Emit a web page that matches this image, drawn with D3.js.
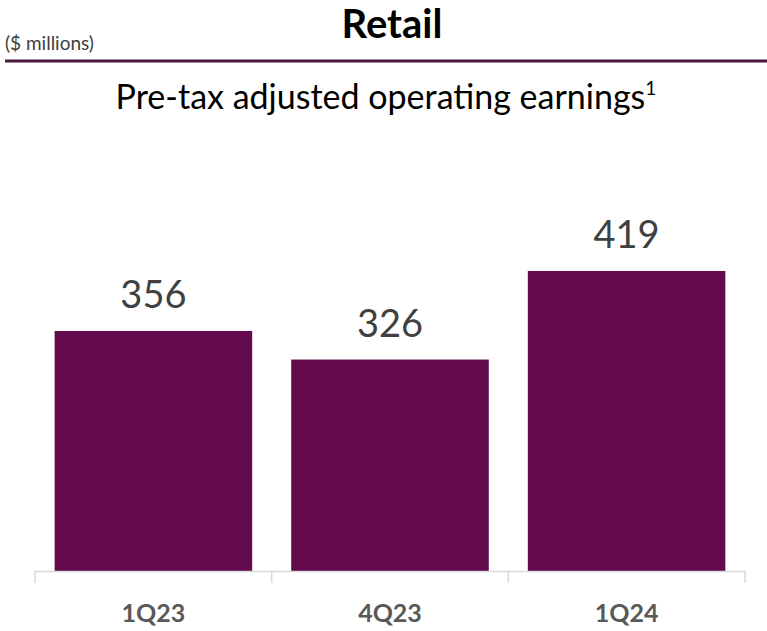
<!DOCTYPE html>
<html>
<head>
<meta charset="utf-8">
<script src="https://cdn.jsdelivr.net/npm/d3@7"></script>
<style>
  html, body { margin: 0; padding: 0; background: #fff; }
  svg { display: block; font-family: Lato, "Open Sans", sans-serif; }
</style>
</head>
<body>
<svg id="chart" width="767" height="631"></svg>
<script>
// Data
const quarters = ["1Q23", "4Q23", "1Q24"];
const earnings = [356, 326, 419];

const W = 767, H = 631;
const svg = d3.select("#chart");

// Header
svg.append("text")
    .attr("x", 392).attr("y", 38)
    .attr("text-anchor", "middle")
    .style("font-size", "40px").style("font-weight", "bold").style("fill", "#000")
    .text("Retail");

svg.append("text")
    .attr("x", 5).attr("y", 50)
    .style("font-size", "19px").style("fill", "#404040")
    .text("($ millions)");

svg.append("line")
    .attr("x1", 5).attr("x2", W).attr("y1", 61).attr("y2", 61)
    .style("stroke", "#4a1a3e").style("stroke-width", 3);

const sub = svg.append("text")
    .attr("x", 386).attr("y", 109)
    .attr("text-anchor", "middle")
    .style("font-size", "34px").style("fill", "#000");
sub.append("tspan").text("Pre-tax adjusted operating earnings");
sub.append("tspan").attr("dy", -14).style("font-size", "19px").text("1");

// Scales
const x = d3.scaleBand().domain(quarters).range([35, 745]).paddingInner(0.165).paddingOuter(0.083);
const y = d3.scaleLinear().domain([104, 567]).range([571, 130]);
const xFull = x.copy().paddingInner(0).paddingOuter(0);

// Bars
svg.selectAll(".bar")
    .data(earnings)
    .enter().append("rect")
    .attr("class", "bar")
    .attr("x", (d, i) => x(quarters[i]))
    .attr("width", x.bandwidth())
    .attr("y", d => y(d))
    .attr("height", d => y(104) - y(d))
    .style("fill", "#630a4d");

// Value labels
svg.selectAll(".val")
    .data(earnings)
    .enter().append("text")
    .attr("class", "val")
    .attr("x", (d, i) => x(quarters[i]) + x.bandwidth() / 2)
    .attr("y", d => y(d) - 23)
    .attr("text-anchor", "middle")
    .style("font-size", "38px").style("fill", "#404040")
    .text(d => d);

// Axis
const ag = svg.append("g").attr("transform", "translate(0,571)")
    .call(d3.axisBottom(xFull).tickSize(0).tickFormat(""));
ag.select(".domain").style("stroke", "#d9d9d9").style("stroke-width", 1.5);

const edges = [35].concat(quarters.map(q => xFull(q) + xFull.bandwidth()));
svg.selectAll(".tick-sep")
    .data(edges)
    .enter().append("line")
    .attr("x1", d => d).attr("x2", d => d)
    .attr("y1", 571).attr("y2", 583)
    .style("stroke", "#d9d9d9").style("stroke-width", 1.5);

svg.selectAll(".cat")
    .data(quarters)
    .enter().append("text")
    .attr("class", "cat")
    .attr("x", d => x(d) + x.bandwidth() / 2)
    .attr("y", 622)
    .attr("text-anchor", "middle")
    .style("font-size", "25px").style("font-weight", "bold").style("fill", "#595959")
    .text(d => d);
</script>
</body>
</html>
